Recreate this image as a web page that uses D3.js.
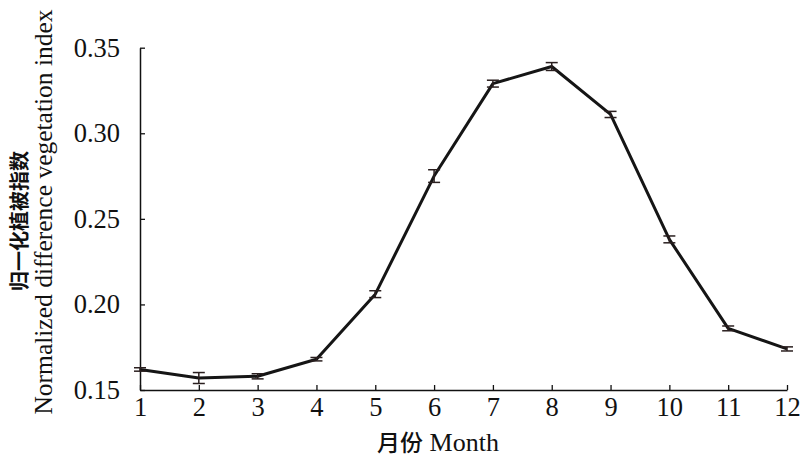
<!DOCTYPE html>
<html>
<head>
<meta charset="utf-8">
<script src="https://cdn.jsdelivr.net/npm/d3@7/dist/d3.min.js"></script>
<style>
  html, body { margin: 0; padding: 0; background: #fff; }
  svg { display: block; }
</style>
</head>
<body>
<svg id="chart" width="800" height="459"></svg>
<script>
const months = [1, 2, 3, 4, 5, 6, 7, 8, 9, 10, 11, 12];
const ndvi = [0.162, 0.157, 0.158, 0.168, 0.206, 0.275, 0.329, 0.339, 0.311, 0.238, 0.186, 0.174];
const ndviErr = [0.001, 0.0032, 0.0015, 0.001, 0.002, 0.0037, 0.002, 0.0023, 0.0018, 0.002, 0.0014, 0.0012];
const yTicks = [0.15, 0.20, 0.25, 0.30, 0.35];
const yLabelCN = "归一化植被指数";
const yLabelEN = "Normalized difference vegetation index";
const xLabel = "月份 Month";

const svg = d3.select("#chart");
const plotLeft = 140, plotRight = 787, plotTop = 47.7, plotBottom = 390;

const x = d3.scaleLinear().domain([1, 12]).range([plotLeft, plotRight]);
const y = d3.scaleLinear().domain([0.15, 0.35]).range([plotBottom, plotTop]);

const serif = "'Liberation Serif', 'Times New Roman', serif";
const cjk = "'Noto Sans CJK SC', sans-serif";

// axes
const xAxis = d3.axisBottom(x).tickValues(months).tickFormat(d3.format("d"))
  .tickSizeInner(-5).tickSizeOuter(0).tickPadding(7);
const yAxis = d3.axisLeft(y).tickValues(yTicks).tickFormat(d3.format(".2f"))
  .tickSizeInner(-5).tickSizeOuter(0).tickPadding(20);

const gx = svg.append("g").attr("transform", `translate(0,${plotBottom})`).call(xAxis);
const gy = svg.append("g").attr("transform", `translate(${plotLeft},0)`).call(yAxis);
[gx, gy].forEach(g => {
  g.attr("font-family", serif).attr("font-size", 26.5);
  g.selectAll("path.domain").attr("stroke", "#111").attr("stroke-width", 1.5);
  g.selectAll(".tick line").attr("stroke", "#111").attr("stroke-width", 1.3);
  g.selectAll(".tick text").attr("fill", "#111");
});

// data line
const data = months.map((m, i) => ({ m, v: ndvi[i], e: ndviErr[i] }));
svg.append("path").datum(data)
  .attr("fill", "none").attr("stroke", "#151515").attr("stroke-width", 3)
  .attr("stroke-linejoin", "round")
  .attr("d", d3.line().x(d => x(d.m)).y(d => y(d.v)));

// error bars
const eb = svg.append("g").attr("stroke", "#2a1f1f").attr("stroke-width", 1.5).attr("fill", "none");
data.forEach(d => {
  const cx = x(d.m), y1 = y(d.v + d.e), y2 = y(d.v - d.e);
  eb.append("line").attr("x1", cx).attr("x2", cx).attr("y1", y1).attr("y2", y2);
  eb.append("line").attr("x1", cx - 6).attr("x2", cx + 6).attr("y1", y1).attr("y2", y1);
  eb.append("line").attr("x1", cx - 6).attr("x2", cx + 6).attr("y1", y2).attr("y2", y2);
});

// axis titles
svg.append("text")
  .attr("transform", "translate(27,221) rotate(-90)")
  .attr("text-anchor", "middle").attr("fill", "#111")
  .style("font-family", cjk).style("font-size", "20px").style("font-weight", "700")
  .text(yLabelCN);
svg.append("text")
  .attr("transform", "translate(52,212) rotate(-90)")
  .attr("text-anchor", "middle").attr("fill", "#111")
  .style("font-family", serif).style("font-size", "25.5px")
  .text(yLabelEN);

const xParts = xLabel.split(" ");
const xt = svg.append("text")
  .attr("x", 438).attr("y", 451).attr("text-anchor", "middle").attr("fill", "#111")
  .style("font-size", "26px");
xt.append("tspan").style("font-family", cjk).style("font-size", "23px").style("font-weight", "500").text(xParts[0]);
xt.append("tspan").style("font-family", serif).text(" " + xParts[1]);
</script>
</body>
</html>
